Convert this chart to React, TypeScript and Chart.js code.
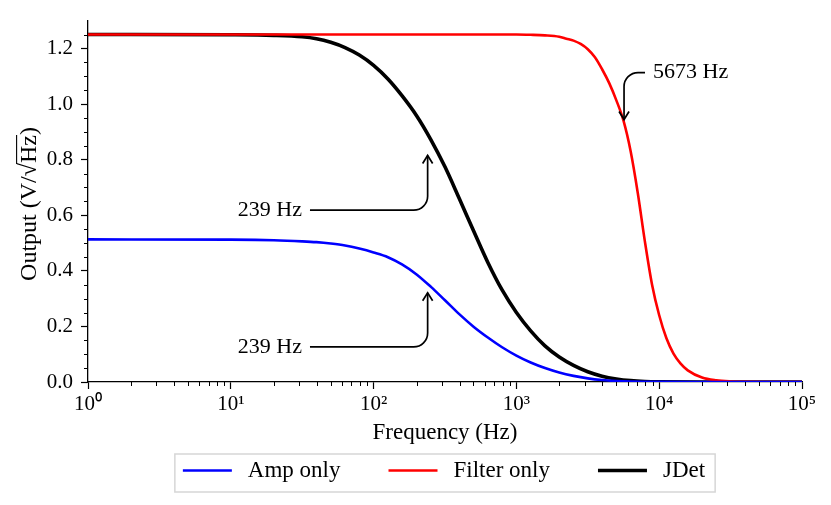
import React, { useEffect, useRef } from 'react';
import { Chart, registerables } from 'chart.js';

Chart.register(...registerables);

const FONT = "'Liberation Serif', 'Times New Roman', serif";

// Amp only (blue)
const ampFreq = [1, 10, 20, 31.6, 39.8, 50.1, 63.1, 79.4, 100, 126, 158, 200, 251, 316, 398, 501, 631, 794, 1000, 1259, 1585, 1995, 2512, 3162, 3981, 5012, 6310, 10000, 31623, 100000];
const ampOutput = [0.513, 0.512, 0.51, 0.506, 0.503, 0.498, 0.491, 0.48, 0.466, 0.449, 0.423, 0.387, 0.343, 0.294, 0.244, 0.199, 0.16, 0.125, 0.095, 0.07, 0.05, 0.034, 0.022, 0.013, 0.007, 0.0035, 0.0015, 0.0003, 0, 0];

// Filter only (red)
const filterFreq = [1, 100, 1000, 1259, 1585, 1995, 2239, 2512, 2818, 3162, 3548, 3981, 4467, 5012, 5623, 6310, 7079, 7943, 8913, 10000, 11220, 12589, 14125, 15849, 19953, 25119, 31623, 39811, 63096, 100000];
const filterOutput = [1.25, 1.25, 1.25, 1.249, 1.247, 1.242, 1.235, 1.228, 1.216, 1.197, 1.168, 1.125, 1.075, 1.013, 0.94, 0.83, 0.68, 0.505, 0.35, 0.24, 0.158, 0.102, 0.066, 0.042, 0.016, 0.006, 0.002, 0.0005, 0, 0];

// JDet (black)
const jdetFreq = [1, 10, 20, 31.6, 39.8, 50.1, 63.1, 79.4, 100, 126, 158, 200, 251, 316, 398, 501, 631, 794, 1000, 1259, 1585, 1995, 2512, 3162, 3981, 5012, 6310, 7943, 10000, 19953, 100000];
const jdetOutput = [1.25, 1.249, 1.247, 1.242, 1.235, 1.222, 1.203, 1.176, 1.139, 1.09, 1.03, 0.958, 0.873, 0.774, 0.66, 0.544, 0.43, 0.331, 0.25, 0.184, 0.13, 0.09, 0.06, 0.037, 0.021, 0.011, 0.005, 0.002, 0.0008, 0, 0];

const xTicks = [1, 10, 100, 1000, 10000, 100000];
const yTicks = [0, 0.2, 0.4, 0.6, 0.8, 1.0, 1.2];
const SUP = ['⁰', '¹', '²', '³', '⁴', '⁵'];

// annotations: arrow tip on a curve, text anchor
const noteLabels = ['239 Hz', '239 Hz', '5673 Hz'];
const noteTargetFreq = [239, 239, 5673];
const noteTargetValue = [0.815, 0.321, 0.944];
const noteTextFreq = [31.5, 31.5, 9050];
const noteTextValue = [0.618, 0.126, 1.113];
const noteTextAlign: CanvasTextAlign[] = ['right', 'right', 'left'];

const toPoints = (xs: number[], ys: number[]) => xs.map((x, i) => ({ x, y: ys[i] }));

const decorPlugin = {
  id: 'decor',
  afterDraw(chart: any) {
    const { ctx, chartArea } = chart;
    const xs = chart.scales.x;
    const ys = chart.scales.y;
    ctx.save();

    // minor ticks
    ctx.strokeStyle = '#000';
    ctx.lineWidth = 1;
    ctx.beginPath();
    for (let k = 0; k < 5; k++) {
      for (let m = 2; m <= 9; m++) {
        const px = Math.round(xs.getPixelForValue(m * Math.pow(10, k))) + 0.5;
        ctx.moveTo(px, chartArea.bottom);
        ctx.lineTo(px, chartArea.bottom + 4);
      }
    }
    for (let i = 1; i <= 25; i++) {
      if (i % 4 === 0) continue;
      const py = Math.round(ys.getPixelForValue(i * 0.05)) + 0.5;
      ctx.moveTo(chartArea.left, py);
      ctx.lineTo(chartArea.left - 4, py);
    }
    ctx.stroke();

    // y axis title with radical
    ctx.translate(36, 204);
    ctx.rotate(-Math.PI / 2);
    ctx.font = `24px ${FONT}`;
    ctx.fillStyle = '#000';
    ctx.textBaseline = 'alphabetic';
    ctx.textAlign = 'left';
    const parts = ['Output (V/', '√', 'Hz', ')'];
    const widths = parts.map((p) => ctx.measureText(p).width);
    const total = widths.reduce((a, b) => a + b, 0);
    let u = -total / 2;
    let barStart = 0;
    let barEnd = 0;
    const sqrtTop = ctx.measureText('√').actualBoundingBoxAscent || 18;
    parts.forEach((p, i) => {
      ctx.fillText(p, u, 0);
      if (i === 1) barStart = u + widths[i] - 1;
      if (i === 2) barEnd = u + widths[i];
      u += widths[i];
    });
    ctx.lineWidth = 1.1;
    ctx.beginPath();
    ctx.moveTo(barStart, -sqrtTop + 0.6);
    ctx.lineTo(barEnd, -sqrtTop + 0.6);
    ctx.stroke();
    ctx.restore();

    // annotations
    ctx.save();
    ctx.font = `22px ${FONT}`;
    ctx.fillStyle = '#000';
    ctx.strokeStyle = '#000';
    ctx.lineWidth = 1.7;
    ctx.textBaseline = 'middle';
    noteLabels.forEach((label, i) => {
      const tx = xs.getPixelForValue(noteTextFreq[i]);
      const ty = ys.getPixelForValue(noteTextValue[i]);
      const px = xs.getPixelForValue(noteTargetFreq[i]);
      const py = ys.getPixelForValue(noteTargetValue[i]);
      ctx.textAlign = noteTextAlign[i];
      ctx.fillText(label, tx, ty);
      const sx = noteTextAlign[i] === 'right' ? tx + 8 : tx - 8;
      ctx.beginPath();
      ctx.moveTo(sx, ty);
      ctx.arcTo(px, ty, px, py, 14);
      ctx.lineTo(px, py);
      ctx.stroke();
      const dir = py < ty ? 1 : -1;
      ctx.beginPath();
      ctx.moveTo(px - 5, py + dir * 8);
      ctx.lineTo(px, py);
      ctx.lineTo(px + 5, py + dir * 8);
      ctx.stroke();
    });
    ctx.restore();

    // legend
    ctx.save();
    ctx.font = `23px ${FONT}`;
    const items = chart.data.datasets.map((ds: any) => ({
      label: ds.label as string,
      color: ds.borderColor as string,
      width: ds.borderWidth as number,
      tw: ctx.measureText(ds.label).width,
    }));
    const lineLen = 49;
    const gapText = 16;
    const gapItem = 48;
    const padL = 8;
    const padR = 10;
    const inner = items.reduce((a: number, it: any) => a + lineLen + gapText + it.tw, 0) + gapItem * (items.length - 1);
    const boxW = padL + inner + padR;
    const boxLeft = (chartArea.left + chartArea.right) / 2 - boxW / 2;
    const boxTop = 454;
    const boxH = 38;
    const midY = 470.5;
    ctx.fillStyle = '#fff';
    ctx.fillRect(boxLeft, boxTop, boxW, boxH);
    ctx.strokeStyle = '#d6d6d6';
    ctx.lineWidth = 1.5;
    ctx.strokeRect(boxLeft, boxTop, boxW, boxH);
    let cx = boxLeft + padL;
    ctx.textBaseline = 'middle';
    ctx.textAlign = 'left';
    items.forEach((it: any) => {
      ctx.strokeStyle = it.color;
      ctx.lineWidth = it.width;
      ctx.beginPath();
      ctx.moveTo(cx, midY);
      ctx.lineTo(cx + lineLen, midY);
      ctx.stroke();
      ctx.fillStyle = '#000';
      ctx.fillText(it.label, cx + lineLen + gapText, midY);
      cx += lineLen + gapText + it.tw + gapItem;
    });
    ctx.restore();
  },
};

export default function App() {
  const canvasRef = useRef<HTMLCanvasElement | null>(null);
  const chartRef = useRef<Chart | null>(null);

  useEffect(() => {
    if (!canvasRef.current) return;
    chartRef.current?.destroy();

    const tickFont = { family: FONT, size: 21 };

    chartRef.current = new Chart(canvasRef.current, {
      type: 'line',
      data: {
        datasets: [
          {
            label: 'Amp only',
            data: toPoints(ampFreq, ampOutput),
            borderColor: '#0000ff',
            backgroundColor: '#0000ff',
            borderWidth: 2.6,
            pointRadius: 0,
            cubicInterpolationMode: 'monotone',
          },
          {
            label: 'Filter only',
            data: toPoints(filterFreq, filterOutput),
            borderColor: '#ff0000',
            backgroundColor: '#ff0000',
            borderWidth: 2.6,
            pointRadius: 0,
            cubicInterpolationMode: 'monotone',
          },
          {
            label: 'JDet',
            data: toPoints(jdetFreq, jdetOutput),
            borderColor: '#000000',
            backgroundColor: '#000000',
            borderWidth: 3.6,
            pointRadius: 0,
            cubicInterpolationMode: 'monotone',
          },
        ],
      },
      options: {
        responsive: false,
        animation: false,
        layout: { padding: { left: 0, right: 29, top: 20, bottom: 58 } },
        plugins: {
          legend: { display: false },
          tooltip: { enabled: false },
        },
        scales: {
          x: {
            type: 'logarithmic',
            min: 1,
            max: 100000,
            afterBuildTicks: (s: any) => {
              s.ticks = xTicks.map((v) => ({ value: v }));
            },
            afterFit: (s: any) => {
              s.height = 65;
            },
            ticks: {
              font: tickFont,
              color: '#000',
              padding: 3,
              maxRotation: 0,
              autoSkip: false,
              callback: (v: any) => '10' + SUP[Math.round(Math.log10(Number(v)))],
            },
            grid: { drawOnChartArea: false, drawTicks: true, tickLength: 7, color: '#000', tickWidth: 1.2 },
            border: { display: true, color: '#000', width: 1.3 },
            title: {
              display: true,
              text: 'Frequency (Hz)',
              color: '#000',
              font: { family: FONT, size: 23 },
              padding: 0,
            },
          },
          y: {
            type: 'linear',
            min: 0,
            max: 1.3,
            afterBuildTicks: (s: any) => {
              s.ticks = yTicks.map((v) => ({ value: v }));
            },
            afterFit: (s: any) => {
              s.width = 88;
            },
            ticks: {
              font: tickFont,
              color: '#000',
              padding: 8,
              callback: (v: any) => Number(v).toFixed(1),
            },
            grid: { drawOnChartArea: false, drawTicks: true, tickLength: 7, color: '#000', tickWidth: 1.2 },
            border: { display: true, color: '#000', width: 1.3 },
          },
        },
      },
      plugins: [decorPlugin],
    });

    return () => {
      chartRef.current?.destroy();
      chartRef.current = null;
    };
  }, []);

  return (
    <div style={{ position: 'fixed', left: 0, top: 0, width: 831, height: 505, background: '#fff' }}>
      <canvas ref={canvasRef} width={831} height={505}></canvas>
    </div>
  );
}
